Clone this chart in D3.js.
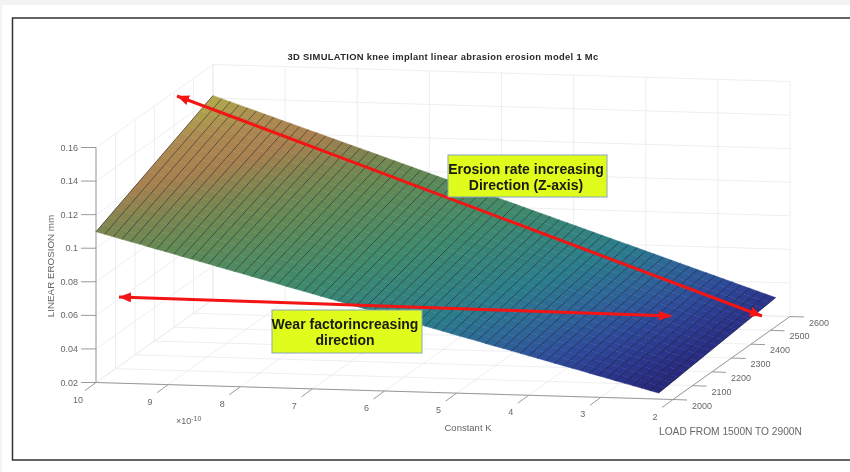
<html>
<head>
<script src="https://d3js.org/d3.v7.min.js"></script>
<style type="text/css">
    html, body { margin: 0; padding: 0; background: #fff; overflow: hidden; }
    svg { display: block; filter: blur(0.5px); }
    text { font-family: 'Liberation Sans', sans-serif; }
</style>
</head>
<body>
<div id="chart"></div>
<script>
// tick labels
var kTicks = [10, 9, 8, 7, 6, 5, 4, 3, 2];
var loadTicks = [2000, 2100, 2200, 2300, 2400, 2500, 2600];
var erosionTicks = [0.02, 0.04, 0.06, 0.08, 0.1, 0.12, 0.14, 0.16];

// surface: one mesh line per k, erosion at both load ends
var kMesh = [10.00, 9.88, 9.76, 9.64, 9.52, 9.40, 9.28, 9.16, 9.04, 8.92, 8.80, 8.68, 8.56, 8.44, 8.32, 8.20, 8.08, 7.96, 7.84, 7.72, 7.60, 7.48, 7.36, 7.24, 7.12, 7.00, 6.88, 6.76, 6.64, 6.52, 6.40, 6.28, 6.16, 6.04, 5.92, 5.80, 5.68, 5.56, 5.44, 5.32, 5.20, 5.08, 4.96, 4.84, 4.72, 4.60, 4.48, 4.36, 4.24, 4.12, 4.00, 3.88, 3.76, 3.64, 3.52, 3.40, 3.28, 3.16, 3.04, 2.92, 2.80, 2.68, 2.56, 2.44, 2.32, 2.20];
var erosionAt2000 = [0.1098, 0.1085, 0.1071, 0.1058, 0.1045, 0.1032, 0.1018, 0.1005, 0.0992, 0.0979, 0.0965, 0.0952, 0.0939, 0.0926, 0.0912, 0.0899, 0.0886, 0.0873, 0.0859, 0.0846, 0.0833, 0.0820, 0.0806, 0.0793, 0.0780, 0.0767, 0.0753, 0.0740, 0.0727, 0.0713, 0.0700, 0.0687, 0.0674, 0.0660, 0.0647, 0.0634, 0.0621, 0.0607, 0.0594, 0.0581, 0.0568, 0.0554, 0.0541, 0.0528, 0.0515, 0.0501, 0.0488, 0.0475, 0.0462, 0.0448, 0.0435, 0.0422, 0.0409, 0.0395, 0.0382, 0.0369, 0.0356, 0.0342, 0.0329, 0.0316, 0.0302, 0.0289, 0.0276, 0.0263, 0.0249, 0.0236];
var erosionAt2600 = [0.1415, 0.1398, 0.1381, 0.1364, 0.1347, 0.1330, 0.1313, 0.1296, 0.1279, 0.1262, 0.1245, 0.1228, 0.1211, 0.1194, 0.1177, 0.1160, 0.1143, 0.1126, 0.1109, 0.1092, 0.1075, 0.1058, 0.1041, 0.1024, 0.1007, 0.0990, 0.0973, 0.0956, 0.0939, 0.0922, 0.0905, 0.0888, 0.0871, 0.0854, 0.0837, 0.0820, 0.0803, 0.0786, 0.0769, 0.0752, 0.0735, 0.0718, 0.0701, 0.0684, 0.0667, 0.0650, 0.0633, 0.0616, 0.0599, 0.0582, 0.0565, 0.0548, 0.0531, 0.0514, 0.0497, 0.0480, 0.0463, 0.0446, 0.0429, 0.0412, 0.0395, 0.0378, 0.0361, 0.0344, 0.0327, 0.0310];

// colormap of the surface
var colorStops = [0.02, 0.03, 0.04, 0.05, 0.06, 0.08, 0.10, 0.11, 0.12, 0.13, 0.14];
var colorValues = ["#25206e", "#2a3288", "#2e4a9a", "#2e6698", "#2b7d8c", "#3f8a6c", "#648a55", "#7d8650", "#a8804f", "#ad8a52", "#b0a84c"];

var width = 850;
var height = 472;

var svg = d3.select("#chart").append("svg")
    .attr("width", width)
    .attr("height", height);

// page edge and frame
svg.append("rect").attr("width", width).attr("height", 5).attr("fill", "#f1f3f5");
svg.append("rect").attr("width", 2).attr("height", height).attr("fill", "#f1f3f5");
svg.append("path")
    .attr("d", "M 860 18 H 12.5 V 460 H 860")
    .attr("fill", "none")
    .attr("stroke", "#333")
    .attr("stroke-width", 1.5);

// the box is an orthographic view, so every axis is a plain linear scale
var kx = d3.scaleLinear().domain([10, 2]).range([0, 577]);
var ky = d3.scaleLinear().domain([10, 2]).range([0, 17]);
var lx = d3.scaleLinear().domain([2000, 2600]).range([0, 117]);
var ly = d3.scaleLinear().domain([2000, 2600]).range([0, -83]);
var zs = d3.scaleLinear().domain([0.02, 0.16]).range([382.5, 147.5]);
var color = d3.scaleLinear().domain(colorStops).range(colorValues);

function project(k, load, z) {
    return [96 + kx(k) + lx(load), zs(z) + ky(k) + ly(load)];
}
var line = d3.line();

// walls and floor grid
var grid = svg.append("g")
    .attr("fill", "none")
    .attr("stroke", "#ececee")
    .attr("stroke-width", 0.9);

function gridLine(a, b) {
    grid.append("path").attr("d", line([a, b]));
}
kTicks.forEach(function(k) {
    gridLine(project(k, 2000, 0.02), project(k, 2600, 0.02));
    gridLine(project(k, 2600, 0.02), project(k, 2600, 0.16));
});
loadTicks.forEach(function(load) {
    gridLine(project(10, load, 0.02), project(2, load, 0.02));
    gridLine(project(10, load, 0.02), project(10, load, 0.16));
});
erosionTicks.forEach(function(z) {
    gridLine(project(10, 2000, z), project(10, 2600, z));
    gridLine(project(10, 2600, z), project(2, 2600, z));
});

// axes
var axes = svg.append("g")
    .attr("fill", "none")
    .attr("stroke", "#999")
    .attr("stroke-width", 1);
var labels = svg.append("g")
    .attr("fill", "#666")
    .attr("font-size", "9px");

axes.append("path").attr("d", line([project(10, 2000, 0.16), project(10, 2000, 0.02), project(2, 2000, 0.02), project(2, 2600, 0.02)]));

erosionTicks.forEach(function(z) {
    var p = project(10, 2000, z);
    axes.append("path").attr("d", line([p, [p[0] - 15, p[1]]]));
    labels.append("text")
        .attr("x", p[0] - 18)
        .attr("y", p[1] + 3)
        .attr("text-anchor", "end")
        .text(z);
});
kTicks.forEach(function(k) {
    var p = project(k, 2000, 0.02);
    axes.append("path").attr("d", line([p, [p[0] - 11, p[1] + 8]]));
    labels.append("text")
        .attr("x", p[0] - 18)
        .attr("y", p[1] + 20)
        .attr("text-anchor", "middle")
        .text(k);
});
loadTicks.forEach(function(load) {
    var p = project(2, load, 0.02);
    axes.append("path").attr("d", line([p, [p[0] + 14, p[1] + 0.5]]));
    labels.append("text")
        .attr("x", p[0] + 19)
        .attr("y", p[1] + 9)
        .text(load);
});

// axis titles
labels.append("text").attr("x", 468).attr("y", 431).attr("text-anchor", "middle").attr("font-size", "9.5px").text("Constant K");
labels.append("text").attr("x", 659).attr("y", 435).attr("font-size", "10.2px").text("LOAD FROM 1500N TO 2900N");
labels.append("text")
    .attr("transform", "translate(54,266) rotate(-90)")
    .attr("text-anchor", "middle")
    .attr("font-size", "9.8px")
    .text("LINEAR EROSION mm");
var exponent = labels.append("text").attr("x", 176).attr("y", 424).attr("font-size", "9px");
exponent.append("tspan").text("\u00d710");
exponent.append("tspan").attr("dy", -3).attr("font-size", "7px").text("-10");

svg.append("text")
    .attr("x", 443)
    .attr("y", 60)
    .attr("text-anchor", "middle")
    .attr("font-size", "9.4px")
    .attr("font-weight", "bold")
    .attr("letter-spacing", "0.32px")
    .attr("fill", "#2a2a2a")
    .text("3D SIMULATION knee implant linear abrasion erosion model 1 Mc");

// surface: each strip between two mesh lines, shaded in slices along the load
var surface = svg.append("g");
var slices = d3.range(0, 1, 1 / 18);
var loadAt = d3.scaleLinear().domain([0, 1]).range([2000, 2600]);

kMesh.slice(0, -1).forEach(function(k, i) {
    var k2 = kMesh[i + 1];
    var low = d3.scaleLinear().domain([0, 1]).range([erosionAt2000[i], erosionAt2600[i]]);
    var high = d3.scaleLinear().domain([0, 1]).range([erosionAt2000[i + 1], erosionAt2600[i + 1]]);
    slices.forEach(function(t) {
        var t2 = t + 1 / 18;
        var fill = color((low(t) + high(t2)) / 2);
        surface.append("path")
            .attr("d", line([
                project(k, loadAt(t), low(t)),
                project(k2, loadAt(t), high(t)),
                project(k2, loadAt(t2), high(t2)),
                project(k, loadAt(t2), low(t2))
            ]) + "Z")
            .attr("fill", fill)
            .attr("stroke", fill)
            .attr("stroke-width", 0.5);
    });
});
kMesh.forEach(function(k, i) {
    surface.append("path")
        .attr("d", line([project(k, 2000, erosionAt2000[i]), project(k, 2600, erosionAt2600[i])]))
        .attr("fill", "none")
        .attr("stroke", "#10101e")
        .attr("stroke-opacity", 0.5)
        .attr("stroke-width", 1);
});

// red arrows
var defs = svg.append("defs");
defs.append("marker")
    .attr("id", "head")
    .attr("markerUnits", "userSpaceOnUse")
    .attr("viewBox", "0 0 12 10")
    .attr("refX", 12)
    .attr("refY", 5)
    .attr("markerWidth", 12)
    .attr("markerHeight", 10)
    .attr("orient", "auto-start-reverse")
    .append("path")
    .attr("d", "M 0 0 L 12 5 L 0 10 Z")
    .attr("fill", "#f41414");

function arrow(a, b) {
    svg.append("path")
        .attr("d", line([a, b]))
        .attr("fill", "none")
        .attr("stroke", "#f41414")
        .attr("stroke-width", 3)
        .attr("marker-start", "url(#head)")
        .attr("marker-end", "url(#head)");
}
arrow([177, 96], [762, 316]);
arrow([119, 297], [671, 316]);

// yellow call-outs
function callout(x, y, w, h, lines, cx, y0, step) {
    svg.append("rect")
        .attr("x", x).attr("y", y).attr("width", w).attr("height", h)
        .attr("fill", "#e0fc1c")
        .attr("stroke", "#8aa6b8")
        .attr("stroke-width", 1);
    lines.forEach(function(t, i) {
        svg.append("text")
            .attr("x", cx)
            .attr("y", y0 + i * step)
            .attr("text-anchor", "middle")
            .attr("font-size", "14px")
            .attr("font-weight", "bold")
            .attr("fill", "#1a1a10")
            .text(t);
    });
}
callout(448, 155, 159, 42, ["Erosion rate increasing", "Direction (Z-axis)"], 526, 174, 15.5);
callout(272, 310, 150, 43, ["Wear factorincreasing", "direction"], 345, 329, 16);
</script>
</body>
</html>
